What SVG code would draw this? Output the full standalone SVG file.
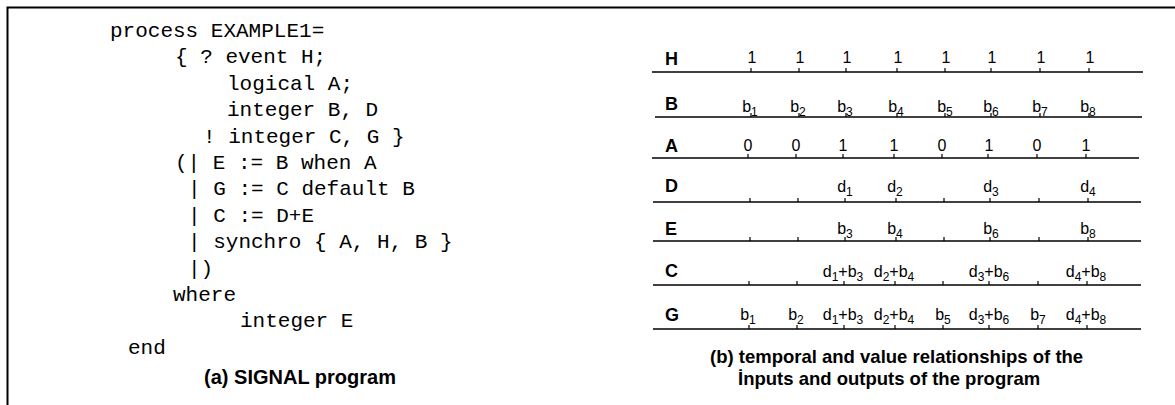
<svg xmlns="http://www.w3.org/2000/svg" width="1175" height="405" viewBox="0 0 1175 405">
<style>
.code{font-family:"Liberation Mono","Courier New",monospace;font-size:21px;fill:#000;white-space:pre}
.cap{font-family:"Liberation Sans",Arial,sans-serif;font-weight:bold;fill:#000}
.lbl{font-family:"Liberation Sans",Arial,sans-serif;font-weight:bold;font-size:18px;fill:#000}
.v{font-family:"Liberation Sans",Arial,sans-serif;font-size:16px;fill:#000;text-anchor:middle}
.s{font-size:12px}
.axis{stroke:#000;stroke-width:1.5;fill:none}
.tick{stroke:#000;stroke-width:1.2;fill:none}
.frame{stroke:#000;stroke-width:2;fill:none}
</style>
<defs>
<path id="ticks" d="M751,0v-4M799,0v-4M846,0v-4M897,0v-4M945,0v-4M991,0v-4M1040,0v-4M1089,0v-4"/>
</defs>
<g id="frame">
<path class="frame" d="M7.5,405V7.5H1175"/>
</g>
<g id="program">
<text class="code" x="110" y="37">process EXAMPLE1=</text>
<text class="code" x="175" y="63.4">{ ? event H;</text>
<text class="code" x="227" y="89.8">logical A;</text>
<text class="code" x="227" y="116.2">integer B, D</text>
<text class="code" x="203" y="142.6">! integer C, G }</text>
<text class="code" x="175" y="169">(| E := B when A</text>
<text class="code" x="188" y="195.4">| G := C default B</text>
<text class="code" x="188" y="221.8">| C := D+E</text>
<text class="code" x="188" y="248.2">| synchro { A, H, B }</text>
<text class="code" x="188" y="274.6">|)</text>
<text class="code" x="173" y="301">where</text>
<text class="code" x="240" y="327.4">integer E</text>
<text class="code" x="128" y="353.8">end</text>
<text class="cap" x="300" y="384" font-size="20" text-anchor="middle">(a) SIGNAL program</text>
</g>
<g id="row-H">
<text class="lbl" x="665" y="65">H</text>
<line class="axis" x1="652" y1="72" x2="1143" y2="72"/>
<use href="#ticks" class="tick" y="72"/>
<text class="v" y="63"><tspan x="752">1</tspan><tspan x="800">1</tspan><tspan x="847">1</tspan><tspan x="898">1</tspan><tspan x="946">1</tspan><tspan x="992">1</tspan><tspan x="1041">1</tspan><tspan x="1090">1</tspan></text>
</g>
<g id="row-B">
<text class="lbl" x="665" y="110">B</text>
<line class="axis" x1="655" y1="117" x2="1142" y2="117"/>
<use href="#ticks" class="tick" y="117"/>
<text class="v" x="750" y="112">b<tspan class="s" dy="4">1</tspan></text>
<text class="v" x="798" y="112">b<tspan class="s" dy="4">2</tspan></text>
<text class="v" x="845" y="112">b<tspan class="s" dy="4">3</tspan></text>
<text class="v" x="896" y="112">b<tspan class="s" dy="4">4</tspan></text>
<text class="v" x="945" y="112">b<tspan class="s" dy="4">5</tspan></text>
<text class="v" x="991" y="112">b<tspan class="s" dy="4">6</tspan></text>
<text class="v" x="1040" y="112">b<tspan class="s" dy="4">7</tspan></text>
<text class="v" x="1088" y="112">b<tspan class="s" dy="4">8</tspan></text>
</g>
<g id="row-A">
<text class="lbl" x="665" y="152">A</text>
<line class="axis" x1="652" y1="158" x2="1139" y2="158"/>
<use href="#ticks" class="tick" x="-3" y="158"/>
<text class="v" y="151"><tspan x="748">0</tspan><tspan x="796">0</tspan><tspan x="843">1</tspan><tspan x="894">1</tspan><tspan x="942">0</tspan><tspan x="989">1</tspan><tspan x="1037">0</tspan><tspan x="1086">1</tspan></text>
</g>
<g id="row-D">
<text class="lbl" x="665" y="192">D</text>
<line class="axis" x1="653" y1="202" x2="1141" y2="202"/>
<use href="#ticks" class="tick" x="-1" y="202"/>
<text class="v" x="845" y="192">d<tspan class="s" dy="4">1</tspan></text>
<text class="v" x="895" y="192">d<tspan class="s" dy="4">2</tspan></text>
<text class="v" x="991" y="192">d<tspan class="s" dy="4">3</tspan></text>
<text class="v" x="1088" y="192">d<tspan class="s" dy="4">4</tspan></text>
</g>
<g id="row-E">
<text class="lbl" x="665" y="235">E</text>
<line class="axis" x1="653" y1="241" x2="1141" y2="241"/>
<use href="#ticks" class="tick" x="-1" y="241"/>
<text class="v" x="845" y="234">b<tspan class="s" dy="4">3</tspan></text>
<text class="v" x="895" y="234">b<tspan class="s" dy="4">4</tspan></text>
<text class="v" x="991" y="234">b<tspan class="s" dy="4">6</tspan></text>
<text class="v" x="1088" y="234">b<tspan class="s" dy="4">8</tspan></text>
</g>
<g id="row-C">
<text class="lbl" x="665" y="277">C</text>
<line class="axis" x1="653" y1="285" x2="1141" y2="285"/>
<use href="#ticks" class="tick" x="-2" y="285"/>
<text class="v" x="843" y="277">d<tspan class="s" dy="4">1</tspan><tspan dy="-4">+b</tspan><tspan class="s" dy="4">3</tspan></text>
<text class="v" x="894" y="277">d<tspan class="s" dy="4">2</tspan><tspan dy="-4">+b</tspan><tspan class="s" dy="4">4</tspan></text>
<text class="v" x="989" y="277">d<tspan class="s" dy="4">3</tspan><tspan dy="-4">+b</tspan><tspan class="s" dy="4">6</tspan></text>
<text class="v" x="1086" y="277">d<tspan class="s" dy="4">4</tspan><tspan dy="-4">+b</tspan><tspan class="s" dy="4">8</tspan></text>
</g>
<g id="row-G">
<text class="lbl" x="665" y="321">G</text>
<line class="axis" x1="653" y1="329" x2="1141" y2="329"/>
<use href="#ticks" class="tick" x="-2" y="329"/>
<text class="v" x="748" y="320">b<tspan class="s" dy="4">1</tspan></text>
<text class="v" x="796" y="320">b<tspan class="s" dy="4">2</tspan></text>
<text class="v" x="843" y="320">d<tspan class="s" dy="4">1</tspan><tspan dy="-4">+b</tspan><tspan class="s" dy="4">3</tspan></text>
<text class="v" x="894" y="320">d<tspan class="s" dy="4">2</tspan><tspan dy="-4">+b</tspan><tspan class="s" dy="4">4</tspan></text>
<text class="v" x="943" y="320">b<tspan class="s" dy="4">5</tspan></text>
<text class="v" x="989" y="320">d<tspan class="s" dy="4">3</tspan><tspan dy="-4">+b</tspan><tspan class="s" dy="4">6</tspan></text>
<text class="v" x="1038" y="320">b<tspan class="s" dy="4">7</tspan></text>
<text class="v" x="1086" y="320">d<tspan class="s" dy="4">4</tspan><tspan dy="-4">+b</tspan><tspan class="s" dy="4">8</tspan></text>
</g>
<g id="caption-b">
<text class="cap" font-size="18.5" x="710" y="363">(b) temporal and value relationships of the</text>
<text class="cap" font-size="18.5" x="738" y="385">İnputs and outputs of the program</text>
</g>
</svg>
